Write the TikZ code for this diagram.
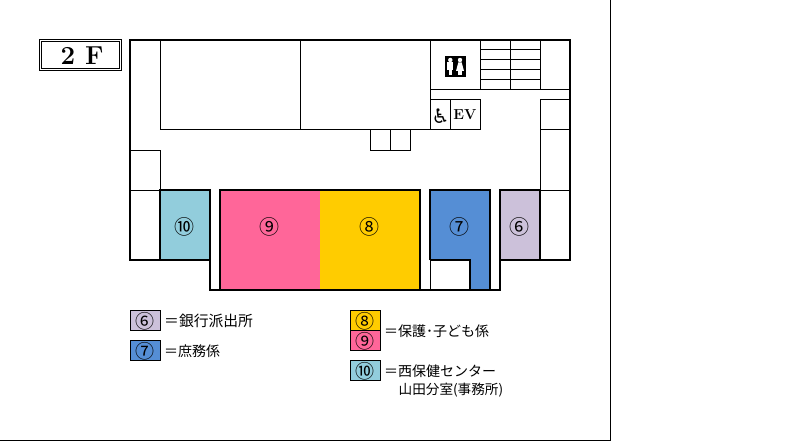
\documentclass[tikz,border=0pt]{standalone}
\usepackage{fontspec}
\newfontfamily\jpfont{Noto Sans CJK JP}
\newfontfamily\symfont{DejaVu Sans}
\definecolor{roomten}{HTML}{92CDDC}
\definecolor{roomnine}{HTML}{FF6699}
\definecolor{roomeight}{HTML}{FFCC00}
\definecolor{roomseven}{HTML}{558ED5}
\definecolor{roomsix}{HTML}{CCC1DA}
\tikzset{
    wall/.style={line width=2pt, line join=miter},
    part/.style={line width=1pt},
    keybox/.style={draw, line width=1pt},
    numlabel/.style={inner sep=0pt, font=\jpfont\fontsize{20}{20}\selectfont},
    keylabel/.style={inner sep=0pt, font=\jpfont\fontsize{19}{19}\selectfont},
    keytext/.style={anchor=west, inner sep=0pt, font=\jpfont\fontsize{14}{14}\selectfont}
}
\begin{document}
\begin{tikzpicture}[x=1pt, y=-1pt]
    \useasboundingbox (0,0) rectangle (800,441);
    % Page edge
    \draw[part] (610,0) -- (610,440.5) -- (0,440.5);

    % Floor title
    \draw[part] (39.5,39.5) rectangle (121,71);
    \draw[part] (41.5,41.5) rectangle (119,69);
    \node[inner sep=0pt, font=\bfseries\fontsize{26}{26}\selectfont] (floor) at (82,56) {2 F};

    % Coloured rooms
    \fill[roomten] (160,190) rectangle (210,260);
    \fill[roomnine] (220,190) rectangle (320,290);
    \fill[roomeight] (320,190) rectangle (420,290);
    \fill[roomseven] (430,190) -- (490,190) -- (490,290) -- (470,290) -- (470,260) -- (430,260) -- cycle;
    \fill[roomsix] (500,190) rectangle (540,260);

    % Upper rooms
    \draw[part] (160,40) rectangle (300,130);
    \draw[part] (300,40) rectangle (430,130);
    \draw[part] (430,40) rectangle (480,90);
    \draw[part] (430,90) -- (570,90);
    \draw[part] (430,100) rectangle (450,130);
    \draw[part] (450,100) rectangle (480,130);
    \draw[part] (370,130) rectangle (390,150);
    \draw[part] (390,130) rectangle (410,150);

    % Stairs
    \draw[part] (480,50) -- (540,50);
    \draw[part] (480,60) -- (540,60);
    \draw[part] (480,70) -- (540,70);
    \draw[part] (480,80) -- (540,80);
    \draw[part] (510,40) -- (510,90);
    \draw[part] (540,40) -- (540,90);

    % Side rooms
    \draw[part] (130,150) rectangle (160,190);
    \draw[part] (130,190) rectangle (160,260);
    \draw[part] (540,100) rectangle (570,130);
    \draw[part] (540,130) rectangle (570,190);
    \draw[part] (540,190) rectangle (570,260);
    \draw[part] (430,260) -- (430,290);

    % Outer walls
    \draw[wall] (130,40) -- (570,40) -- (570,260) -- (500,260) -- (500,290) -- (210,290) -- (210,260) -- (130,260) -- cycle;
    \draw[wall] (160,260) -- (160,190) -- (210,190) -- (210,260);
    \draw[wall] (220,290) -- (220,190) -- (420,190) -- (420,290);
    \draw[wall] (430,260) -- (430,190) -- (490,190) -- (490,290);
    \draw[wall] (430,260) -- (470,260) -- (470,290);
    \draw[wall] (500,260) -- (500,190) -- (540,190) -- (540,260);

    % Toilet sign
    \fill[black] (445,56) rectangle (466,77);
    \fill[white] (450.3,60) circle (2.2);
    \fill[white] (447.3,62.5) rectangle (453.3,70);
    \fill[white] (448.6,70) rectangle (452.2,75.5);
    \fill[white] (460,60) circle (2.2);
    \fill[white] (458.3,62.5) -- (461.7,62.5) -- (464,71) -- (456,71) -- cycle;
    \fill[white] (458.4,71) rectangle (461.6,75.5);

    % Lift
    \node[inner sep=0pt, font=\symfont\fontsize{20}{20}\selectfont] (wheel) at (440.5,116) {♿};
    \node[inner sep=0pt, font=\bfseries\fontsize{14.5}{14.5}\selectfont] (lift) at (465,115) {EV};

    % Room numbers
    \node[numlabel] (num10) at (184,227) {⑩};
    \node[numlabel] (num9) at (269,227) {⑨};
    \node[numlabel] (num8) at (369,227) {⑧};
    \node[numlabel] (num7) at (459,227) {⑦};
    \node[numlabel] (num6) at (519,227) {⑥};

    % Key
    \draw[keybox, fill=roomsix] (130,310) rectangle (160,330);
    \node[keylabel] (key6) at (145,321) {⑥};
    \node[keytext, font=\jpfont\fontsize{14.8}{14.8}\selectfont] (text6) at (164,321) {＝銀行派出所};
    \draw[keybox, fill=roomseven] (130,340) rectangle (160,360);
    \node[keylabel] (key7) at (145,351) {⑦};
    \node[keytext] (text7) at (164,351) {＝庶務係};
    \draw[keybox, fill=roomeight] (350,310) rectangle (380,330);
    \draw[keybox, fill=roomnine] (350,330) rectangle (380,350);
    \node[keylabel] (key8) at (365,321) {⑧};
    \node[keylabel] (key9) at (365,341) {⑨};
    \node[keytext] (text8) at (384,331) {＝保護･子ども係};
    \draw[keybox, fill=roomten] (350,360) rectangle (380,380);
    \node[keylabel] (key10) at (365,371) {⑩};
    \node[keytext] (text10) at (384,371) {＝西保健センター};
    \node[keytext, font=\jpfont\fontsize{13.6}{13.6}\selectfont] (text10b) at (398.5,390) {山田分室(事務所)};
\end{tikzpicture}
\end{document}
